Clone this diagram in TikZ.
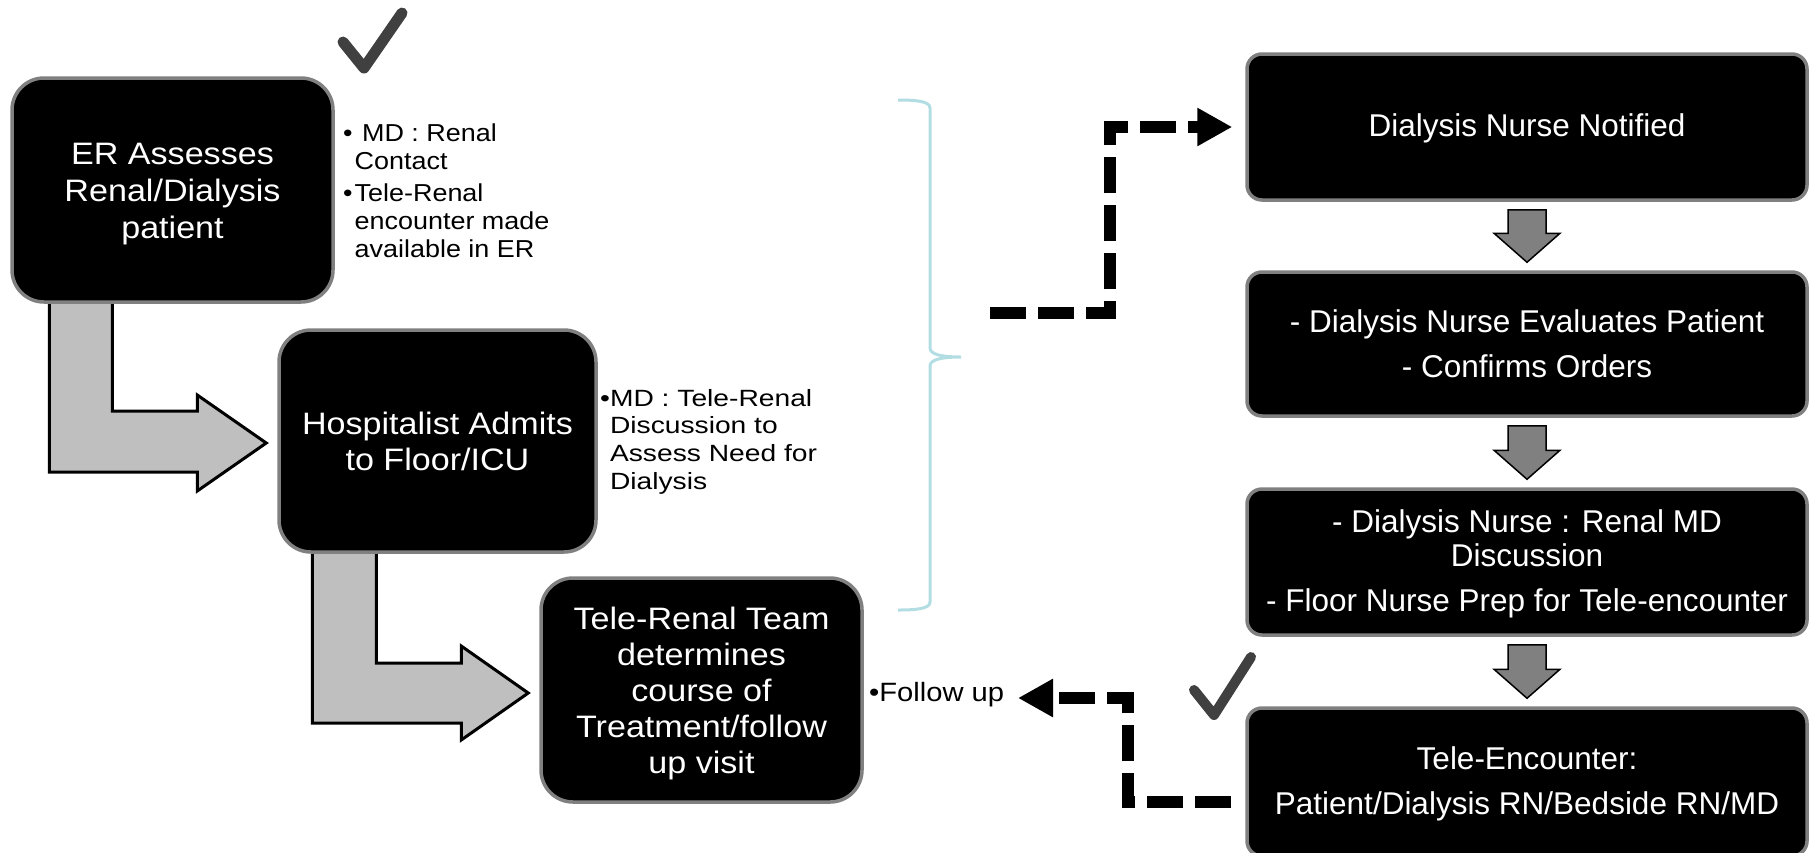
\documentclass[tikz,border=0pt]{standalone}
\usepackage{fontspec}
\setmainfont{Liberation Sans}
\newfontfamily\widefont[FakeStretch=1.1]{Liberation Sans}
\newfontfamily\widerfont[FakeStretch=1.2]{Liberation Sans}
\usetikzlibrary{arrows.meta,calc}
\pgfdeclarelayer{bg}
\pgfsetlayers{bg,main}
\definecolor{boxborder}{HTML}{808080}
\definecolor{bentfill}{HTML}{BFBFBF}
\definecolor{downfill}{HTML}{808080}
\definecolor{bracecol}{HTML}{B2DDE3}
\definecolor{checkcol}{HTML}{404040}
\begin{document}
\begin{tikzpicture}[x=1pt,y=-1pt,
  leftbox/.style={fill=black, draw=boxborder, line width=3.5pt, rounded corners=32pt, text=white, align=center, inner sep=0pt},
  rightbox/.style={fill=black, draw=boxborder, line width=3.5pt, rounded corners=15pt, minimum width=560pt, text=white, align=center, inner sep=0pt, font=\fontsize{31.5}{34}\selectfont},
  bentarrow/.style={fill=bentfill, draw=black, line width=3pt, line join=miter},
  downarrow/.style={fill=downfill, draw=black, line width=1.5pt, line join=miter},
  dashconn/.style={line width=12pt, dash pattern=on 36pt off 12pt, -{Triangle[length=35pt,width=36pt]}},
  bullettext/.style={anchor=base west, inner sep=0pt},
  checkmark/.style={draw=checkcol, line width=11pt, line cap=round, line join=round},
  bracestyle/.style={draw=bracecol, line width=3pt}
]
\useasboundingbox (0,0) rectangle (1814,852);

% left column boxes
\node[leftbox, minimum width=321pt, minimum height=224pt, font=\widefont\fontsize{31}{37}\selectfont] (er) at (172.5,190) {\rule{0pt}{29pt}ER Assesses\\Renal/Dialysis\\patient};
\node[leftbox, minimum width=317pt, minimum height=222pt, font=\widefont\fontsize{31}{36}\selectfont] (hosp) at (437.5,441) {Hospitalist Admits\\to Floor/ICU};
\node[leftbox, minimum width=321pt, minimum height=224pt, font=\widefont\fontsize{31}{36}\selectfont] (tele) at (701.5,690) {\rule{0pt}{30pt}Tele-Renal Team\\determines\\course of\\Treatment/follow\\up visit};

% right column boxes
\node[rightbox, minimum height=146pt] (a) at (1527,127) {\rule{0pt}{26pt}Dialysis Nurse Notified};
\node[rightbox, minimum height=144pt] (b) at (1527,344) {- Dialysis Nurse Evaluates Patient\\[11pt]- Confirms Orders};
\node[rightbox, minimum height=146pt] (c) at (1527,562) {\rule{0pt}{26pt}- Dialysis Nurse : Renal MD\\Discussion\\[11pt]- Floor Nurse Prep for Tele-encounter};
\node[rightbox, minimum height=148pt] (d) at (1527,782) {\rule{0pt}{27pt}Tele-Encounter:\\[11pt]Patient/Dialysis RN/Bedside RN/MD};

% bullet texts
\node[bullettext, font=\widefont\fontsize{24.5}{28}\selectfont] (n1) at (343,141)
  {\begin{tabular}[t]{@{}l@{\hspace{2pt}}l@{}}•&\ MD : Renal\\ &Contact\\[4pt]•&Tele-Renal\\ &encounter made\\ &available in ER\end{tabular}};
\node[bullettext, font=\widerfont\fontsize{23.5}{27.7}\selectfont] (n2) at (600,406)
  {\begin{tabular}[t]{@{}l@{}l@{}}•&MD : Tele-Renal\\ &Discussion to\\ &Assess Need for\\ &Dialysis\end{tabular}};
\node[bullettext, font=\widefont\fontsize{26.5}{28}\selectfont] (fu) at (869,701) {•Follow up};

% bent grey arrows (behind boxes)
\begin{pgfonlayer}{bg}
\draw[bentarrow] ($(er.south west)+(39,-8)$) |- ($(hosp.west)+(-80,31)$) -- ($(hosp.west)+(-80,50)$) -- ($(hosp.west)+(-11,2)$) -- ($(hosp.west)+(-80,-46)$) -- ($(hosp.west)+(-80,-30)$) -| ($(er.south west)+(102,-8)$) -- cycle;
\draw[bentarrow] ($(hosp.south west)+(35,-8)$) |- ($(tele.west)+(-78,33)$) -- ($(tele.west)+(-78,50)$) -- ($(tele.west)+(-11,3)$) -- ($(tele.west)+(-78,-44)$) -- ($(tele.west)+(-78,-27)$) -| ($(hosp.south west)+(99,-8)$) -- cycle;
\end{pgfonlayer}

% grey down arrows
\foreach \u/\v in {a/b, b/c, c/d}{
  \coordinate (t) at ($(\u.south)+(0,8)$);
  \coordinate (p) at ($(\v.north)+(0,-8)$);
  \draw[downarrow] ($(t)+(-19,0)$) -- ($(t)+(19,0)$) -- ($(p)+(19,-29)$) -- ($(p)+(33,-29)$) -- (p) -- ($(p)+(-33,-29)$) -- ($(p)+(-19,-29)$) -- cycle;
}

% brace
\draw[bracestyle] (898,100) .. controls (915,100) and (930,101) .. (930,108) -- (930,348) .. controls (930,354) and (940,357) .. (961,357) .. controls (940,357) and (930,360) .. (930,366) -- (930,602) .. controls (930,609) and (915,610) .. (898,610);

% dashed connectors
\coordinate (d1s) at (990,313);
\draw[dashconn] (d1s) -| ($(a.west)+(-135,0)$) -- ($(a.west)+(-13,0)$);
\coordinate (fut) at (1018,698);
\draw[dashconn] ($(d.west)+(-14,20)$) -| ($(fut)+(110,0)$) -- (fut);

% check marks
\draw[checkmark] (343,42) -- (364,68) -- (402,13);
\draw[checkmark, line width=10pt] (1194,690) -- (1214,715) -- (1251,657);
\end{tikzpicture}
\end{document}
